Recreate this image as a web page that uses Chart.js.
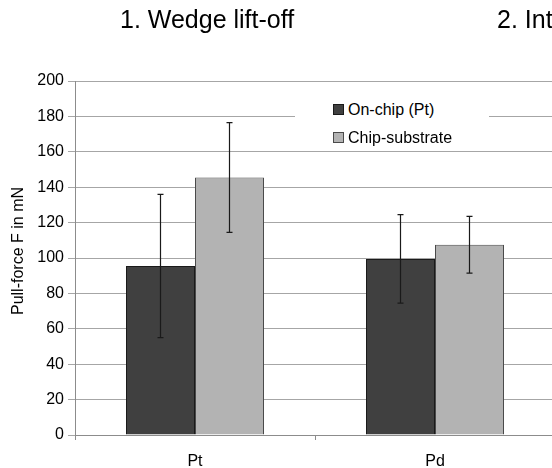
<html>
<head>
<title>Pull-force</title>
<style>
body { margin:0; background:#fff; overflow:hidden; font-family:"Liberation Sans", Arial, sans-serif; }
#wrap { position:relative; width:552px; height:468px; overflow:hidden; }
#myChart { position:absolute; left:0; top:0; }
.ttl { position:absolute; top:7px; font-size:25px; line-height:25px; color:#000; white-space:nowrap; }
#ytitle { position:absolute; left:-82px; top:241px; width:200px; height:20px; line-height:20px; font-size:16px; text-align:center; transform:rotate(-90deg); white-space:nowrap; }
#legend { position:absolute; left:295px; top:99px; width:194px; height:48px; background:#fff; font-size:16px; color:#000; }
.item { position:absolute; left:0; height:20px; line-height:20px; width:194px; }
.sw { position:absolute; left:38px; top:4px; width:9px; height:9px; border:1px solid #222; }
.lbl { position:absolute; left:53px; top:0; white-space:nowrap; }
</style>
</head>

<body>
<script src="https://cdn.jsdelivr.net/npm/chart.js@4/dist/chart.umd.min.js"></script>

<div id="wrap">
  <canvas id="myChart" width="600" height="468"></canvas>
  <div class="ttl" style="left:120px;">1. Wedge lift-off</div>
  <div class="ttl" style="left:497px;">2. Int</div>
  <div id="ytitle">Pull-force F in mN</div>
  <div id="legend"></div>
</div>

<script type="text/javascript">
var categories = ["Pt", "Pd"];
var onChip = [95.5, 99.5];
var onChipErr = [40.5, 25];
var chipSub = [145.5, 107.5];
var chipSubErr = [31, 16];
var seriesNames = ["On-chip (Pt)", "Chip-substrate"];
var fills = ["#404040", "#b3b3b3"];
var borders = ["#1a1a1a", "#4a4a4a"];

// error bars drawn through the y scale
var errorBars = {
  id: 'errorBars',
  afterDatasetsDraw: function(chart) {
    var ctx = chart.ctx, ys = chart.scales.y;
    chart.data.datasets.forEach(function(ds, i) {
      var meta = chart.getDatasetMeta(i);
      meta.data.forEach(function(bar, j) {
        var hi = ys.getPixelForValue(ds.data[j] + ds.errors[j]);
        var lo = ys.getPixelForValue(ds.data[j] - ds.errors[j]);
        ctx.save();
        ctx.strokeStyle = '#1a1a1a';
        ctx.lineWidth = 1.2;
        ctx.beginPath();
        ctx.moveTo(bar.x, hi); ctx.lineTo(bar.x, lo);
        ctx.moveTo(bar.x - 3, hi); ctx.lineTo(bar.x + 3, hi);
        ctx.moveTo(bar.x - 3, lo); ctx.lineTo(bar.x + 3, lo);
        ctx.stroke();
        ctx.restore();
      });
    });
  }
};

var data = {
  labels: categories,
  datasets: [
    { label: seriesNames[0], data: onChip, errors: onChipErr,
      backgroundColor: fills[0], borderColor: borders[0], borderWidth: 1 },
    { label: seriesNames[1], data: chipSub, errors: chipSubErr,
      backgroundColor: fills[1], borderColor: borders[1], borderWidth: 1 }
  ]
};

Chart.defaults.font.family = '"Liberation Sans", Arial, sans-serif';
Chart.defaults.color = '#000';

var ctx = document.getElementById("myChart").getContext("2d");
var myChart = new Chart(ctx, {
  type: 'bar',
  data: data,
  plugins: [errorBars],
  options: {
    responsive: false,
    animation: false,
    layout: { padding: { top: 81, right: 45, left: 0, bottom: 0 } },
    datasets: { bar: { barPercentage: 1, categoryPercentage: 0.575 } },
    plugins: { legend: { display: false }, tooltip: { enabled: false } },
    scales: {
      x: {
        grid: { drawOnChartArea: false, tickLength: 5, color: '#8c8c8c' },
        border: { color: '#8c8c8c' },
        ticks: { font: { size: 16 }, color: '#000', padding: 12 },
        afterFit: function(s) { s.height = 33; }
      },
      y: {
        min: 0, max: 200,
        ticks: { stepSize: 20, font: { size: 16 }, color: '#000', padding: 4 },
        grid: { color: '#a6a6a6', tickLength: 7 },
        border: { color: '#8c8c8c' },
        afterFit: function(s) { s.width = 75; }
      }
    }
  }
});

// legend box from the dataset names
var leg = document.getElementById("legend");
seriesNames.forEach(function(name, i) {
  var it = document.createElement("div");
  it.className = "item";
  it.style.top = (1 + i * 28) + "px";
  it.innerHTML = '<span class="sw" style="background:' + fills[i] + ';border-color:' + borders[i] + '"></span><span class="lbl">' + name + '</span>';
  leg.appendChild(it);
});
</script>
</body>
</html>
